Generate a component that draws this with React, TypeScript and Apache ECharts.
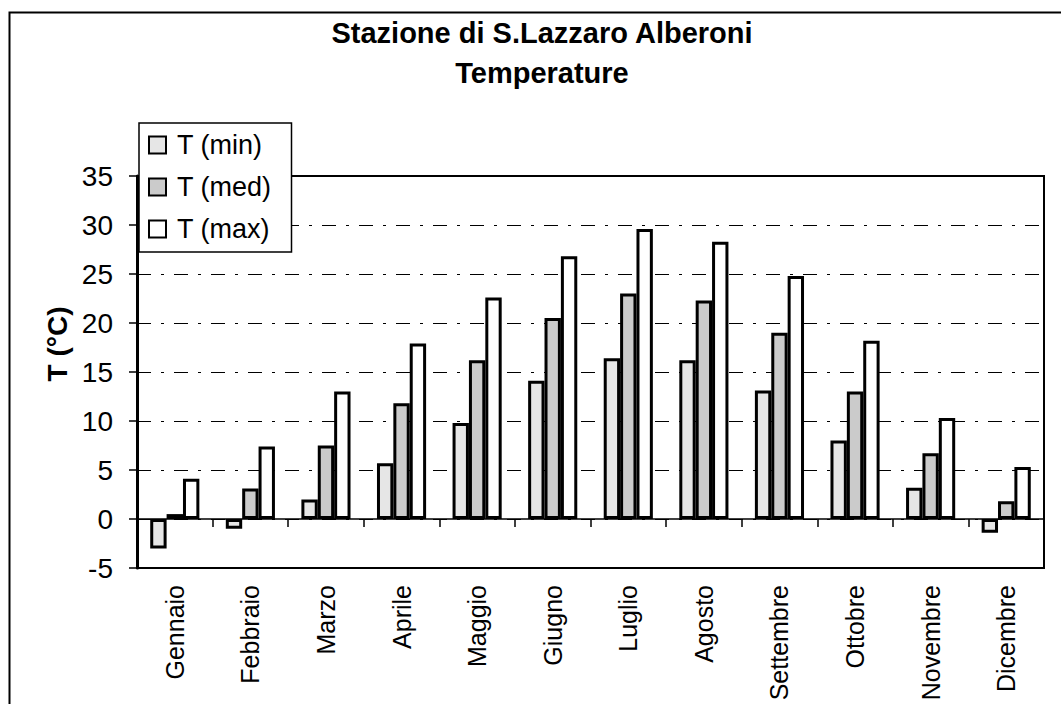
import React, { useEffect, useRef } from "react";
import * as echarts from "echarts";

const months = ["Gennaio", "Febbraio", "Marzo", "Aprile", "Maggio", "Giugno", "Luglio", "Agosto", "Settembre", "Ottobre", "Novembre", "Dicembre"];
const tMin = [-3.0, -1.0, 2.0, 5.7, 9.8, 14.1, 16.4, 16.2, 13.1, 8.0, 3.2, -1.4];
const tMed = [0.5, 3.1, 7.5, 11.8, 16.2, 20.5, 23.0, 22.3, 19.0, 13.0, 6.7, 1.8];
const tMax = [4.1, 7.4, 13.0, 17.9, 22.6, 26.8, 29.6, 28.3, 24.8, 18.2, 10.3, 5.3];
const seriesNames = ["T (min)", "T (med)", "T (max)"];
const seriesColors = ["#e6e6e6", "#cbcbcb", "#ffffff"];

const FONT = "'Liberation Sans', Arial, sans-serif";

export default function App() {
  const ref = useRef<HTMLDivElement>(null);
  useEffect(() => {
    if (!ref.current) return;
    const chart = echarts.init(ref.current, null, { renderer: "svg" });
    const data = [tMin, tMed, tMax];
    chart.setOption({
      animation: false,
      backgroundColor: "#ffffff",
      textStyle: { fontFamily: FONT, color: "#000" },
      title: {
        text: "Stazione di S.Lazzaro Alberoni\nTemperature",
        left: 537,
        top: 8,
        textAlign: "center",
        textStyle: { fontFamily: FONT, fontSize: 29, fontWeight: "bold", color: "#000", lineHeight: 40 },
      },
      graphic: [
        {
          type: "rect",
          left: 7,
          top: 10,
          shape: { width: 1100, height: 760 },
          style: { fill: "none", stroke: "#000", lineWidth: 2 },
          z: -10,
          silent: true,
        },
        {
          type: "text",
          x: 57,
          y: 344,
          rotation: Math.PI / 2,
          style: {
            text: "T (°C)",
            fontFamily: FONT,
            fontSize: 28,
            fontWeight: "bold",
            fill: "#000",
            align: "center",
            verticalAlign: "middle",
          },
        },
      ],
      legend: {
        orient: "vertical",
        left: 139,
        top: 123,
        padding: [8, 20, 9, 9],
        itemGap: 14,
        itemWidth: 17,
        itemHeight: 17,
        icon: "rect",
        borderColor: "#000",
        borderWidth: 1.5,
        backgroundColor: "#fff",
        data: seriesNames,
        textStyle: { fontFamily: FONT, fontSize: 27, color: "#000", lineHeight: 28, padding: [0, 0, 0, 6] },
        z: 20,
      },
      grid: {
        left: 137,
        right: 17,
        top: 176,
        bottom: 136,
        show: true,
        borderColor: "#000",
        borderWidth: 2,
        backgroundColor: "transparent",
        containLabel: false,
        outerBoundsMode: "none",
      },
      xAxis: [
        {
          type: "category",
          data: months,
          position: "bottom",
          axisLine: { show: false, onZero: false },
          axisTick: { show: false },
          axisLabel: { rotate: 90, fontSize: 25, fontFamily: FONT, color: "#000", margin: 17 },
          splitLine: { show: false },
        },
        {
          type: "category",
          data: months,
          position: "bottom",
          axisLine: { show: true, onZero: true, lineStyle: { color: "#000", width: 1.5 } },
          axisTick: { show: true, length: 8, lineStyle: { color: "#000", width: 1.5 } },
          axisLabel: { show: false },
          splitLine: { show: false },
        },
      ],
      yAxis: {
        type: "value",
        min: -5,
        max: 35,
        interval: 5,
        axisLine: { show: true, lineStyle: { color: "#000", width: 3 } },
        axisTick: { show: true, length: 8, lineStyle: { color: "#000", width: 1.5 } },
        axisLabel: { fontSize: 28, fontFamily: FONT, color: "#000", margin: 24 },
        splitLine: { show: true, lineStyle: { color: "#000", width: 1.2, type: [14, 10, 3, 10] } },
      },
      series: seriesNames.map((name, i) => ({
        name,
        type: "bar",
        xAxisIndex: 0,
        data: data[i],
        barGap: "0%",
        barCategoryGap: "35%",
        itemStyle: { color: seriesColors[i], borderColor: "#000", borderWidth: 3 },
        emphasis: { disabled: true },
        z: 5,
      })),
    });
    return () => chart.dispose();
  }, []);
  return <div ref={ref} style={{ width: 1061, height: 704, position: "absolute", left: 0, top: 0 }} />;
}
